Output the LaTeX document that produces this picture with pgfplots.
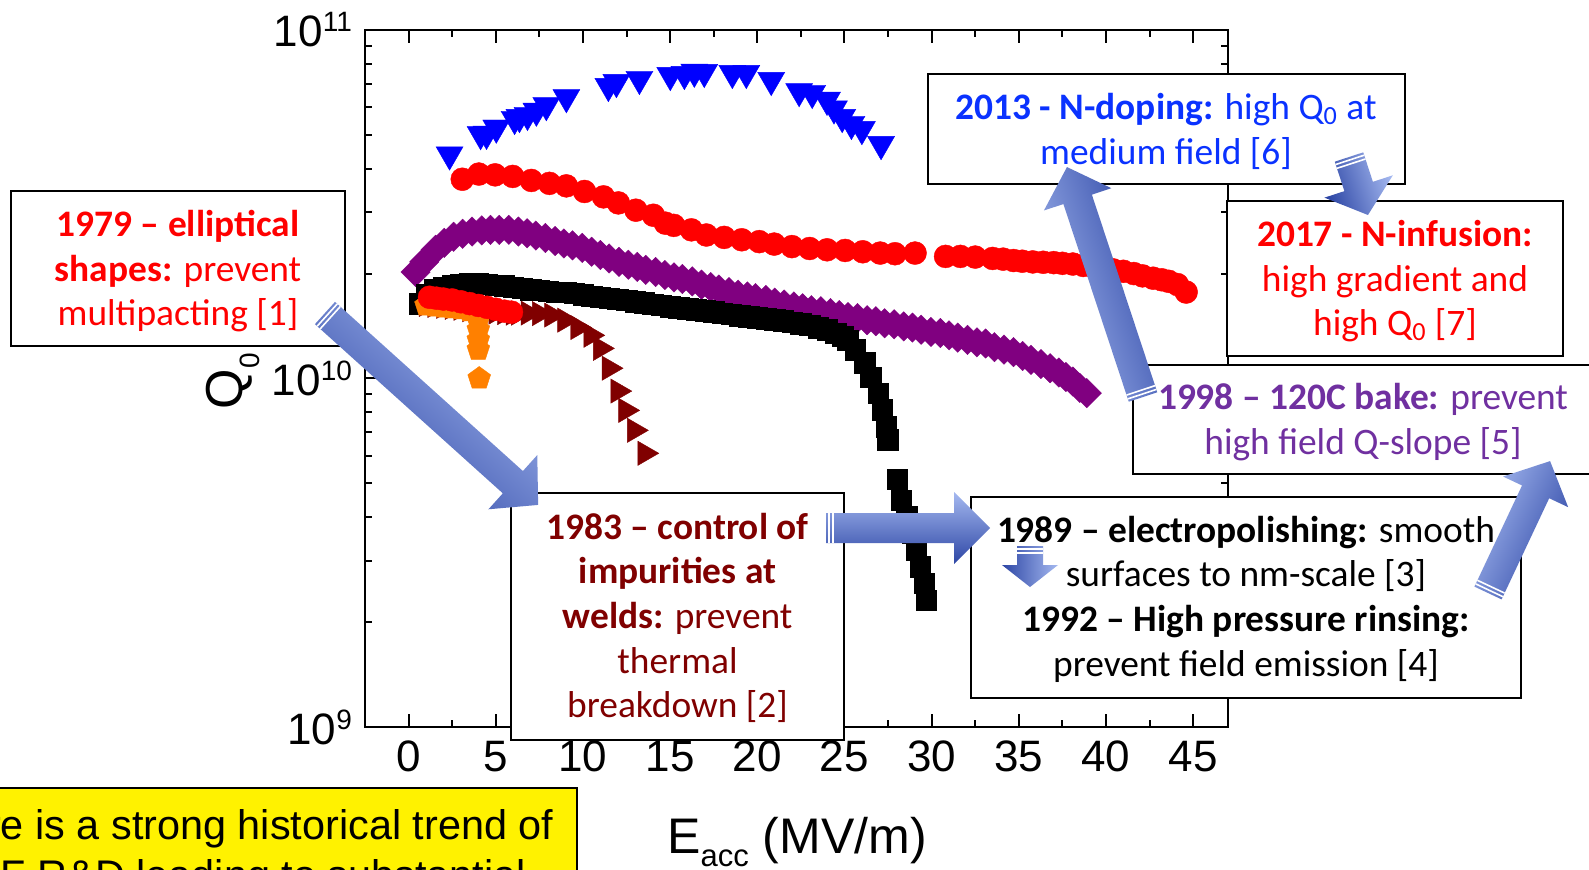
\documentclass[border=0pt]{standalone}
\usepackage{fontspec}
\setmainfont{Liberation Sans}
\newfontfamily\calib{Carlito}
\usepackage{pgfplots}
\pgfplotsset{compat=1.18}

\definecolor{qblue}{RGB}{0,0,255}
\definecolor{qred}{RGB}{255,0,0}
\definecolor{qpurple}{RGB}{128,0,128}
\definecolor{qorange}{RGB}{255,128,0}
\definecolor{qmaroon}{RGB}{128,0,0}
\definecolor{tblue}{RGB}{10,50,255}
\definecolor{tpurple}{RGB}{112,48,160}
\definecolor{tmaroon}{RGB}{128,0,0}
\definecolor{arrlight}{RGB}{165,185,240}
\definecolor{arrmid}{RGB}{88,118,212}
\definecolor{arrdark}{RGB}{45,70,165}

% block arrow: tail x, tail y, angle, length, shaft width, head width, head length (pixels)
\newcommand{\blockarrow}[7]{%
  \begin{scope}[shift={(#1,#2)},rotate=#3]
    \shade[top color=arrlight, middle color=arrmid, bottom color=arrdark, shading angle=#3]
      (0,{-#5/2}) -- ({#4-#7},{-#5/2}) -- ({#4-#7},{-#6/2}) -- (#4,0)
      -- ({#4-#7},{#6/2}) -- ({#4-#7},{#5/2}) -- (0,{#5/2}) -- cycle;
    \draw[white, line width=0.8pt] (3,{-#5/2}) -- (3,{#5/2});
    \draw[white, line width=0.8pt] (7,{-#5/2}) -- (7,{#5/2});
  \end{scope}}

\tikzset{ann/.style={font=\calib\fontsize{18.7}{22.4}\selectfont, anchor=base, inner sep=0pt}}

\begin{document}
\begin{tikzpicture}
\path[use as bounding box] (0pt,0pt) rectangle (794.5pt,-434.5pt);
\clip (0pt,0pt) rectangle (794.5pt,-434.5pt);

\begin{axis}[
  at={(182.5pt,-363.5pt)}, anchor=south west,
  scale only axis, width=431.5pt, height=348.5pt,
  xmin=-2.5, xmax=47, ymin=1e9, ymax=1e11, ymode=log,
  xtick={0,5,...,45}, minor x tick num=1,
  ytick={1e9,1e10,1e11},
  yticklabels={{10\raisebox{7.5pt}{\fontsize{14}{14}\selectfont 9}},
               {10\raisebox{7.5pt}{\fontsize{14}{14}\selectfont 10}},
               {10\raisebox{7.5pt}{\fontsize{14}{14}\selectfont 11}}},
  axis line style={line width=1pt},
  tick style={black, line width=1pt},
  major tick length=6.5pt, minor tick length=3.5pt,
  ticklabel style={font=\fontsize{22}{26}\selectfont},
  xticklabel style={yshift=-3.5pt},
  yticklabel style={xshift=-3pt},
  /pgf/number format/assume math mode=true,
]
% 1998 - 120C bake
\addplot[only marks, mark=square*, mark size=5.2pt, mark options={rotate=45, fill=qpurple, draw=qpurple, line width=0.2pt}]
coordinates {
(0.4,2.02e10) (0.9,2.16e10) (1.55,2.34e10) (2.05,2.45e10) (2.58,2.55e10) (3.1,2.60e10)
(3.64,2.64e10) (4.2,2.66e10) (4.70,2.67e10) (5.2,2.67e10) (5.75,2.67e10) (6.3,2.64e10)
(6.80,2.61e10) (7.3,2.57e10) (7.85,2.53e10) (8.4,2.48e10) (8.91,2.44e10) (9.4,2.41e10)
(9.96,2.37e10) (10.5,2.31e10) (11.0,2.26e10) (11.5,2.21e10) (12.07,2.16e10) (12.6,2.12e10)
(13.12,2.09e10) (13.6,2.05e10) (14.17,2.02e10) (14.7,1.98e10) (15.22,1.95e10) (15.7,1.93e10)
(16.27,1.90e10) (16.8,1.86e10) (17.33,1.83e10) (17.8,1.80e10) (18.38,1.77e10) (18.9,1.74e10)
(19.43,1.72e10) (19.9,1.70e10) (20.49,1.68e10) (21.0,1.65e10) (21.54,1.63e10) (22.1,1.61e10)
(22.6,1.59e10) (23.1,1.57e10) (23.65,1.56e10) (24.2,1.54e10) (24.7,1.52e10) (25.2,1.50e10)
(25.75,1.49e10) (26.3,1.47e10) (26.8,1.46e10) (27.3,1.44e10) (27.85,1.43e10) (28.4,1.41e10)
(28.9,1.40e10) (29.4,1.38e10) (29.96,1.36e10) (30.5,1.35e10) (31.0,1.33e10) (31.5,1.31e10)
(32.06,1.29e10) (32.6,1.27e10) (33.1,1.26e10) (33.6,1.23e10) (34.15,1.21e10) (34.7,1.19e10)
(35.22,1.16e10) (35.7,1.13e10) (36.27,1.10e10) (36.8,1.07e10) (37.3,1.04e10) (37.7,1.01e10)
(38.1,0.98e10) (38.5,0.94e10) (38.9,0.908e10)
};
% 1989/1992 - electropolishing, high pressure rinsing
\addplot[only marks, mark=square*, mark size=5.1pt, mark options={fill=black, draw=black, line width=0.2pt}]
coordinates {
(0.6,1.64e10) (1.0,1.74e10) (1.5,1.80e10) (2.0,1.83e10) (2.5,1.85e10) (3.0,1.865e10)
(3.5,1.87e10) (4.0,1.87e10) (4.5,1.865e10) (5.0,1.855e10) (5.5,1.845e10) (6.0,1.83e10)
(6.5,1.815e10) (7.0,1.80e10) (7.5,1.79e10) (8.0,1.78e10) (8.5,1.77e10) (9.0,1.765e10)
(9.5,1.755e10) (10.0,1.74e10) (10.5,1.725e10) (11.0,1.71e10) (11.5,1.70e10) (12.0,1.69e10)
(12.5,1.675e10) (13.0,1.66e10) (13.5,1.65e10) (14.0,1.635e10) (14.5,1.62e10) (15.0,1.605e10)
(15.5,1.595e10) (16.0,1.585e10) (16.5,1.575e10) (17.0,1.565e10) (17.5,1.555e10) (18.0,1.54e10)
(18.5,1.53e10) (19.0,1.515e10) (19.5,1.505e10) (20.0,1.495e10) (20.5,1.485e10) (21.0,1.475e10)
(21.5,1.465e10) (22.0,1.45e10) (22.5,1.435e10) (23.0,1.42e10) (23.5,1.40e10) (24.0,1.38e10)
(24.5,1.35e10) (24.9,1.32e10) (25.18,1.29e10) (25.61,1.21e10) (26.17,1.11e10) (26.5,1.01e10)
(26.93,9.08e9) (27.16,8.13e9) (27.38,7.28e9) (27.49,6.67e9) (28.04,5.15e9) (28.25,4.48e9)
(28.58,4.01e9) (28.92,3.60e9) (29.13,3.22e9) (29.34,2.88e9) (29.57,2.59e9) (29.69,2.31e9)
};
% 1983 - control of impurities
\addplot[only marks, mark=triangle*, mark size=7pt, mark options={rotate=-90, fill=qmaroon, draw=qmaroon, line width=0.2pt}]
coordinates {
(1.0,1.63e10) (1.5,1.62e10) (2.0,1.61e10) (2.5,1.60e10) (3.0,1.59e10) (3.5,1.575e10)
(4.0,1.565e10) (4.5,1.555e10) (5.0,1.55e10) (5.5,1.545e10) (6.0,1.54e10) (6.3,1.54e10)
(6.85,1.54e10) (7.5,1.535e10) (8.2,1.52e10) (8.95,1.47e10) (9.7,1.40e10) (10.45,1.33e10)
(11.0,1.22e10) (11.5,1.07e10) (12.0,9.2e9) (12.45,8.1e9) (12.95,7.1e9) (13.55,6.1e9)
};
% orange
\addplot[only marks, mark=pentagon*, mark size=6pt, mark options={fill=qorange, draw=qorange, line width=0.2pt}]
coordinates {
(1.0,1.62e10) (1.5,1.61e10) (2.0,1.60e10) (2.5,1.59e10) (3.0,1.58e10) (3.5,1.56e10)
(3.9,1.52e10) (4.0,1.47e10) (4.0,1.38e10) (4.0,1.29e10) (4.0,1.21e10) (4.05,1.0e10)
};
% 1979 - elliptical shapes
\addplot[only marks, mark=*, mark size=5.75pt, mark options={fill=qred, draw=qred, line width=0.2pt}]
coordinates {
(1.2,1.71e10) (1.6,1.70e10) (2.0,1.69e10) (2.5,1.68e10) (3.0,1.66e10) (3.5,1.64e10)
(4.0,1.62e10) (4.5,1.60e10) (5.0,1.58e10) (5.5,1.56e10) (5.9,1.55e10)
};
% 2017 - N-infusion
\addplot[only marks, mark=*, mark size=5.75pt, mark options={fill=qred, draw=qred, line width=0.2pt}]
coordinates {
(3.08,3.73e10) (4.03,3.86e10) (4.96,3.84e10) (5.97,3.80e10) (7.04,3.70e10) (8.08,3.63e10)
(9.05,3.57e10) (10.09,3.44e10) (11.18,3.32e10) (12.03,3.19e10) (13.04,3.04e10) (14.04,2.94e10)
(14.73,2.79e10) (15.21,2.75e10) (16.22,2.67e10) (17.08,2.58e10) (18.1,2.54e10) (19.11,2.50e10)
(20.11,2.47e10) (20.97,2.43e10) (21.99,2.39e10) (23.0,2.36e10) (24.0,2.34e10) (25.04,2.33e10)
(26.05,2.31e10) (27.05,2.29e10) (27.9,2.28e10) (29.05,2.29e10) (30.8,2.24e10) (31.65,2.24e10)
(32.5,2.23e10) (33.5,2.21e10) (34.1,2.20e10) (34.7,2.18e10) (35.2,2.17e10) (35.8,2.16e10)
(36.4,2.155e10) (37.0,2.15e10) (37.5,2.14e10) (38.1,2.13e10) (38.7,2.11e10) (39.3,2.09e10)
(39.8,2.07e10) (40.4,2.05e10) (41.0,2.03e10) (41.6,2.00e10) (42.1,1.97e10) (42.7,1.94e10)
(43.2,1.92e10) (43.6,1.90e10) (44.1,1.86e10) (44.6,1.77e10)
};
% 2013 - N-doping
\addplot[only marks, mark=triangle*, mark size=7.8pt, mark options={rotate=180, fill=qblue, draw=qblue, line width=0.2pt}]
coordinates {
(2.35,4.39e10) (4.13,5.02e10) (4.47,5.03e10) (5.03,5.24e10) (6.08,5.55e10) (6.36,5.62e10)
(6.82,5.70e10) (7.33,5.86e10) (7.9,6.08e10) (9.05,6.41e10) (11.46,6.90e10) (11.92,7.08e10)
(13.24,7.23e10) (15.01,7.42e10) (15.82,7.47e10) (16.39,7.58e10) (16.96,7.57e10) (18.57,7.52e10)
(19.37,7.52e10) (20.8,7.18e10) (22.4,6.67e10) (23.15,6.59e10) (24.0,6.30e10) (24.4,5.95e10)
(24.87,5.62e10) (25.4,5.37e10) (26.0,5.19e10) (27.1,4.70e10)
};
\end{axis}

\begin{scope}[x=0.5pt, y=-0.5pt]
% axis titles
\node[anchor=base, inner sep=0pt, font=\fontsize{25}{30}\selectfont] at (797,853)
  {E\raisebox{-6.5pt}{\fontsize{15.5}{16}\selectfont acc} (MV/m)};
\node[rotate=90, anchor=base, inner sep=0pt, font=\fontsize{26}{30}\selectfont] at (242,381)
  {Q\raisebox{-8.5pt}{\fontsize{14}{14}\selectfont 0}};

% yellow box
\draw[fill=yellow, line width=0.75pt] (-10,788) rectangle (577,900);
\node[anchor=base, inner sep=0pt, font=\fontsize{20.7}{25}\selectfont] at (234.5,839) {There is a strong historical trend of};
\node[anchor=base, inner sep=0pt, font=\fontsize{20.7}{25}\selectfont] at (234.5,889) {SRF R\&D leading to substantial};

% annotation boxes
\draw[fill=white, line width=0.75pt] (11,191) rectangle (345,346);
\node[ann, text=qred] at (178,236) {\textbf{1979 – elliptical}};
\node[ann, text=qred] at (178,281) {\textbf{shapes:} prevent};
\node[ann, text=qred] at (178,325) {multipacting [1]};

\draw[fill=white, line width=0.75pt] (511,493) rectangle (844,740);
\node[ann, text=tmaroon] at (677.5,539) {\textbf{1983 – control of}};
\node[ann, text=tmaroon] at (677.5,583.6) {\textbf{impurities at}};
\node[ann, text=tmaroon] at (677.5,628) {\textbf{welds:} prevent};
\node[ann, text=tmaroon] at (677.5,673) {thermal};
\node[ann, text=tmaroon] at (677.5,717) {breakdown [2]};

\draw[fill=white, line width=0.75pt] (971,497) rectangle (1521,698);
\node[ann, text=black] at (1246,542) {\textbf{1989 – electropolishing:} smooth};
\node[ann, text=black] at (1246,586.6) {surfaces to nm-scale [3]};
\node[ann, text=black] at (1246,631) {\textbf{1992 – High pressure rinsing:}};
\node[ann, text=black] at (1246,676) {prevent field emission [4]};

\draw[fill=white, line width=0.75pt] (1133,365) rectangle (1600,474);
\node[ann, text=tpurple] at (1363,409) {\textbf{1998 – 120C bake:} prevent};
\node[ann, text=tpurple] at (1363,454) {high field Q-slope [5]};

\draw[fill=white, line width=0.75pt] (928,74) rectangle (1405,184);
\node[ann, text=tblue] at (1166,119.4) {\textbf{2013 - N-doping:} high Q\textsubscript{0} at};
\node[ann, text=tblue] at (1166,164) {medium field [6]};

\draw[fill=white, line width=0.75pt] (1227,201) rectangle (1563,356);
\node[ann, text=qred] at (1395,246) {\textbf{2017 - N-infusion:}};
\node[ann, text=qred] at (1395,291) {high gradient and};
\node[ann, text=qred] at (1395,335) {high Q\textsubscript{0} [7]};

% arrows
\blockarrow{325}{313}{-42.0}{286.8}{30}{73}{34}
\blockarrow{826}{528}{0}{164}{30}{72}{36}
\blockarrow{1030}{546}{-90}{41}{26}{56}{22}
\blockarrow{1488}{593}{64.8}{145.8}{30}{72}{34}
\blockarrow{1143}{397}{108.3}{242.2}{30}{71}{34}
\blockarrow{1349}{157}{-71.9}{61}{30}{72}{30}
\end{scope}
\end{tikzpicture}
\end{document}
